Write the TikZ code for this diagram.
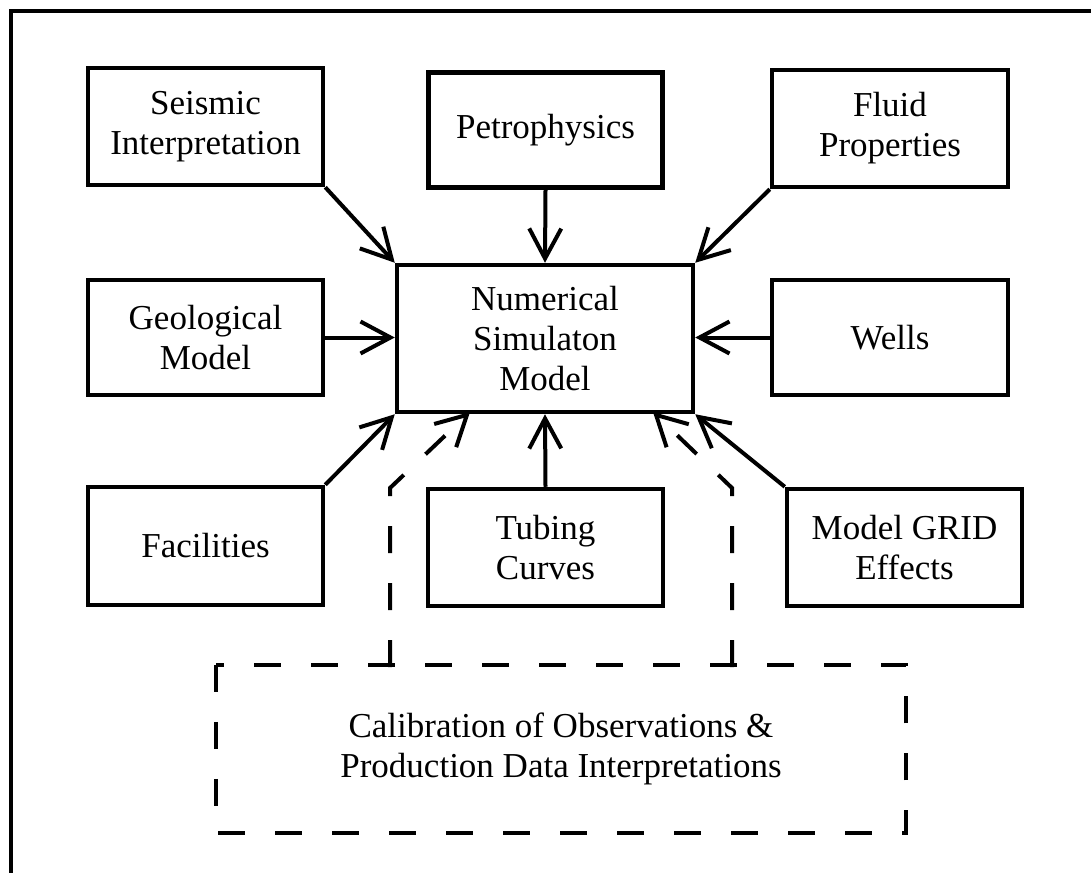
\documentclass[tikz,border=0pt]{standalone}
\usepackage{fontspec}
\setmainfont{Liberation Serif}
\usetikzlibrary{arrows.meta}
\begin{document}
\begin{tikzpicture}[x=1pt,y=-1pt,
  box/.style={draw, line width=4.5pt, align=center, inner sep=0pt,
    font=\fontsize{35}{40}\selectfont},
  conn/.style={line width=4pt, -{Straight Barb[length=30pt,width=32pt,line width=4pt]}},
  dashline/.style={line width=4pt, dash pattern=on 27pt off 30pt},
  dconn/.style={dashline, -{Straight Barb[length=30pt,width=32pt,line width=4pt]}}]
\useasboundingbox (0,0) rectangle (1091,872);
\begin{scope}
\clip (0,0) rectangle (1091,872);
\draw[line width=4pt] (11,11) rectangle (1110,890);
\end{scope}
% nodes
\node[box, minimum width=235pt, minimum height=117pt] (seis) at (205.5,126.5) {Seismic\\Interpretation};
\node[box, minimum width=234pt, minimum height=115pt] (petro) at (545.5,130) {Petrophysics};
\node[box, minimum width=236pt, minimum height=117pt] (fluid) at (890,128.5) {Fluid\\Properties};
\node[box, minimum width=235pt, minimum height=115pt] (geo) at (205.5,337.5) {Geological\\Model};
\node[box, minimum width=296pt, minimum height=147pt] (num) at (545,338.5) {Numerical\\Simulaton\\Model};
\node[box, minimum width=236pt, minimum height=115pt] (wells) at (890,337.5) {Wells};
\node[box, minimum width=235pt, minimum height=118pt] (fac) at (205.5,546) {Facilities};
\node[box, minimum width=235pt, minimum height=117pt] (tub) at (545.5,547.5) {Tubing\\Curves};
\node[box, minimum width=235pt, minimum height=117pt] (grid) at (904.5,547.5) {Model GRID\\Effects};
\node[box, draw=none, minimum width=686pt, minimum height=164pt] (cal) at (561,749) {Calibration of Observations \&\\Production Data Interpretations};
\draw[dashline] (cal.north west) rectangle (cal.south east);
% connectors
\draw[conn] (seis.south east) -- (num.north west);
\draw[conn] (petro.south) -- (num.north);
\draw[conn] (fluid.south west) -- (num.north east);
\draw[conn] (geo.east) -- (num.west |- geo.east);
\draw[conn] (wells.west) -- (num.east |- wells.west);
\draw[conn] (fac.north east) -- (num.south west);
\draw[conn] (tub.north) -- (num.south);
\draw[conn] (grid.north west) -- (num.south east);
% dashed feedback
\coordinate (l1) at (390,667);
\coordinate (l2) at (390,488);
\coordinate (ltip) at (470,412);
\coordinate (r1) at (732,667);
\coordinate (r2) at (732,488);
\coordinate (rtip) at (653,412);
\draw[dconn] (l1) -- (l2) -- (ltip);
\draw[dconn] (r1) -- (r2) -- (rtip);
\end{tikzpicture}
\end{document}
